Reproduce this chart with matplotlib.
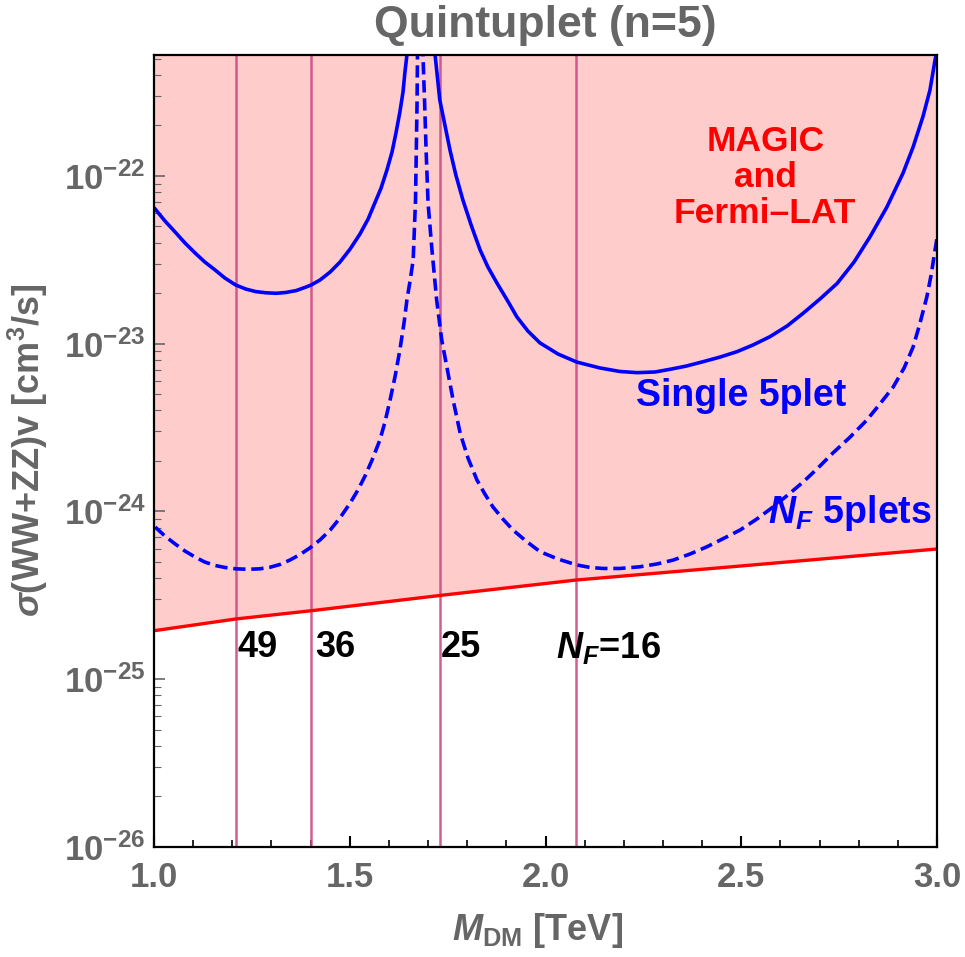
import numpy as np
import matplotlib
matplotlib.use("Agg")
import matplotlib.pyplot as plt
from matplotlib.ticker import FixedLocator, NullFormatter, LogLocator

plt.rcParams['font.family'] = ['Liberation Sans', 'DejaVu Sans']
plt.rcParams['font.weight'] = 'bold'
plt.rcParams['mathtext.fontset'] = 'custom'
plt.rcParams['mathtext.rm'] = 'Liberation Sans:bold'
plt.rcParams['mathtext.it'] = 'Liberation Sans:italic'
plt.rcParams['mathtext.bf'] = 'Liberation Sans:bold:italic'

# ---------------- data ----------------
# MAGIC + Fermi-LAT bound (red line), log10 of <sigma v> [cm^3/s]
bound_m = [1.0, 1.209, 1.401, 1.730, 2.078, 2.5, 3.0]
bound_log = [-24.711, -24.641, -24.592, -24.501, -24.409, -24.325, -24.224]

# single 5plet, left branch (M in TeV, log10 sigma v)
single_left_m = [1.003, 1.028, 1.054, 1.079, 1.105, 1.130, 1.156, 1.181, 1.209,
                 1.235, 1.260, 1.286, 1.312, 1.337, 1.363, 1.388, 1.401, 1.424,
                 1.450, 1.475, 1.501, 1.526, 1.547, 1.564, 1.580, 1.595, 1.608,
                 1.618, 1.628, 1.636, 1.641, 1.646, 1.652]
single_left_log = [-22.198, -22.269, -22.335, -22.400, -22.460, -22.514, -22.561,
                   -22.609, -22.651, -22.675, -22.690, -22.697, -22.700, -22.695,
                   -22.684, -22.663, -22.651, -22.621, -22.573, -22.514, -22.436,
                   -22.347, -22.257, -22.162, -22.073, -21.965, -21.858, -21.745,
                   -21.620, -21.501, -21.381, -21.280, -21.0]
# single 5plet, right branch
single_right_m = [1.712, 1.718, 1.730, 1.743, 1.756, 1.771, 1.789, 1.810, 1.833,
                  1.853, 1.876, 1.902, 1.927, 1.955, 1.986, 2.032, 2.080, 2.139,
                  2.190, 2.234, 2.280, 2.318, 2.359, 2.402, 2.446, 2.489, 2.530,
                  2.573, 2.617, 2.658, 2.701, 2.745, 2.788, 2.829, 2.872, 2.913,
                  2.939, 2.964, 2.982, 2.995, 3.0]
single_right_log = [-21.0, -21.280, -21.548, -21.697, -21.846, -21.995, -22.144,
                    -22.293, -22.442, -22.544, -22.639, -22.740, -22.841, -22.925,
                    -22.996, -23.062, -23.110, -23.145, -23.166, -23.173, -23.169,
                    -23.153, -23.134, -23.108, -23.080, -23.048, -23.008, -22.959,
                    -22.895, -22.819, -22.734, -22.641, -22.514, -22.363, -22.186,
                    -21.985, -21.828, -21.648, -21.489, -21.310, -21.25]

# N_F 5plets, left branch
nf_left_m = [1.003, 1.028, 1.054, 1.079, 1.105, 1.130, 1.156, 1.181, 1.209, 1.240,
             1.271, 1.296, 1.322, 1.347, 1.373, 1.398, 1.424, 1.450, 1.475, 1.501,
             1.521, 1.539, 1.557, 1.577, 1.590, 1.603, 1.616, 1.628, 1.639, 1.646,
             1.654, 1.662, 1.665, 1.668, 1.670, 1.672, 1.673, 1.675]
nf_left_log = [-24.093, -24.147, -24.194, -24.236, -24.272, -24.302, -24.322,
               -24.334, -24.342, -24.345, -24.342, -24.333, -24.316, -24.290,
               -24.257, -24.218, -24.170, -24.111, -24.039, -23.950, -23.872,
               -23.789, -23.694, -23.574, -23.467, -23.336, -23.193, -23.038,
               -22.871, -22.740, -22.627, -22.502, -22.323, -22.144, -21.846,
               -21.548, -21.280, -21.0]
# N_F 5plets, right branch
nf_right_m = [1.683, 1.687, 1.691, 1.695, 1.700, 1.710, 1.722, 1.735, 1.748, 1.764,
              1.782, 1.802, 1.825, 1.845, 1.866, 1.891, 1.917, 1.950, 1.986, 2.032,
              2.080, 2.114, 2.147, 2.190, 2.241, 2.285, 2.326, 2.369, 2.413, 2.454,
              2.497, 2.540, 2.581, 2.619, 2.658, 2.696, 2.734, 2.778, 2.821, 2.854,
              2.888, 2.916, 2.939, 2.956, 2.974, 2.985, 2.995, 3.0]
nf_right_log = [-21.0, -21.280, -21.548, -21.846, -22.162, -22.442, -22.740,
                -22.979, -23.139, -23.336, -23.533, -23.682, -23.813, -23.896,
                -23.974, -24.045, -24.111, -24.176, -24.240, -24.284, -24.319,
                -24.334, -24.340, -24.340, -24.330, -24.313, -24.290, -24.254,
                -24.210, -24.162, -24.111, -24.045, -23.974, -23.902, -23.825,
                -23.741, -23.652, -23.557, -23.455, -23.360, -23.259, -23.145,
                -23.020, -22.883, -22.722, -22.591, -22.442, -22.371]

# N_F markers (vertical lines)
nf_values = [49, 36, 25, 16]
nf_masses = [1.209, 1.401, 1.730, 2.078]
nf_labels = ['49', '36', '25', r'$\mathbf{N_F}$=16']

xticks = [1.0, 1.5, 2.0, 2.5, 3.0]
xticklabels = ['1.0', '1.5', '2.0', '2.5', '3.0']
yticks = [1e-26, 1e-25, 1e-24, 1e-23, 1e-22]
yticklabels = [r'$\mathrm{10^{-26}}$', r'$\mathrm{10^{-25}}$', r'$\mathrm{10^{-24}}$',
               r'$\mathrm{10^{-23}}$', r'$\mathrm{10^{-22}}$']

# ---------------- plot ----------------
GRAY = '#666666'
W, H = 965, 957
fig = plt.figure(figsize=(W / 100, H / 100), dpi=100)
ax = fig.add_axes([154 / W, 1 - 847 / H, (937 - 154) / W, (847 - 55) / H])

ymin, ymax = 1e-26, 5.25e-22
ax.set_xlim(1.0, 3.0)
ax.set_yscale('log')
ax.set_ylim(ymin, ymax)

bm = np.array(bound_m)
bv = 10 ** np.array(bound_log)
ax.fill_between(bm, bv, ymax * 10, color='#FFCCCC', lw=0, zorder=1)

for m in nf_masses:
    ax.axvline(m, color='#CC4C86', lw=1.8, alpha=0.9, zorder=2)

ax.plot(bm, bv, color='#FF0000', lw=2.4, zorder=3)

line_kw = dict(color='#0000FF', lw=2.6, zorder=4, solid_joinstyle='round')
ax.plot(single_left_m, 10 ** np.array(single_left_log), **line_kw)
ax.plot(single_right_m, 10 ** np.array(single_right_log), **line_kw)
ax.plot(nf_left_m, 10 ** np.array(nf_left_log), dashes=(3.4, 1.6), **line_kw)
ax.plot(nf_right_m, 10 ** np.array(nf_right_log), dashes=(3.4, 1.6), **line_kw)

# labels for N_F
label_y = 10 ** -24.814
offsets = [0.004, 0.01, 0.002, -0.052]
for m, lab, off in zip(nf_masses, nf_labels, offsets):
    ax.text(m + off, label_y, lab, fontsize=26, fontweight='bold', color='black',
            ha='left', va='center', zorder=5)

ax.text(2.561, 10 ** -22.01, 'MAGIC\nand\nFermi\u2013LAT', fontsize=25.5, fontweight='bold',
        color='#FF0000', ha='center', va='center', linespacing=1.1, zorder=5)
ax.text(2.499, 10 ** -23.31, 'Single 5plet', fontsize=27, fontweight='bold',
        color='#0000FF', ha='center', va='center', zorder=5)
ax.text(2.987, 10 ** -24.01, r'$\mathbf{N_F}$ 5plets', fontsize=27, fontweight='bold',
        color='#0000FF', ha='right', va='center', zorder=5)

# axes styling
for s in ax.spines.values():
    s.set_linewidth(1.6)
    s.set_color('black')
    s.set_zorder(6)

ax.xaxis.set_major_locator(FixedLocator(xticks))
ax.set_xticklabels(xticklabels)
ax.xaxis.set_minor_locator(FixedLocator(np.arange(1.1, 3.0, 0.1)))
ax.yaxis.set_major_locator(FixedLocator(yticks))
ax.set_yticklabels(yticklabels)
ax.yaxis.set_minor_locator(LogLocator(base=10, subs=np.arange(2, 10)))
ax.yaxis.set_minor_formatter(NullFormatter())

ax.tick_params(axis='x', which='both', direction='in', top=False, bottom=True,
               colors='black', labelcolor=GRAY, labelsize=25, pad=10)
ax.tick_params(axis='x', which='major', length=8, width=1.5)
ax.tick_params(axis='x', which='minor', length=5, width=1.2)
ax.tick_params(axis='y', which='both', direction='in', left=True, right=False,
               colors=GRAY, labelcolor=GRAY, labelsize=25, pad=6)
ax.tick_params(axis='y', which='major', length=8, width=1.2)
ax.tick_params(axis='y', which='minor', length=5, width=0.8)
for lab in ax.get_xticklabels() + ax.get_yticklabels():
    lab.set_fontweight('bold')

fig.text(545 / W, 1 - 25 / H, 'Quintuplet (n=5)', fontsize=32, fontweight='bold',
         color=GRAY, ha='center', va='center')

fig.text(538 / W, 1 - 930 / H, r'$\mathbf{M}_{\mathrm{DM}}$ [TeV]', fontsize=26,
         color=GRAY, ha='center', va='center', fontweight='bold')
fig.text(28 / W, 1 - 450 / H, r'$\sigma$(WW+ZZ)v [cm$^{\mathrm{3}}$/s]', fontsize=26,
         color=GRAY, ha='center', va='center', rotation=90, fontweight='bold')

fig.savefig('out.png', dpi=100)
